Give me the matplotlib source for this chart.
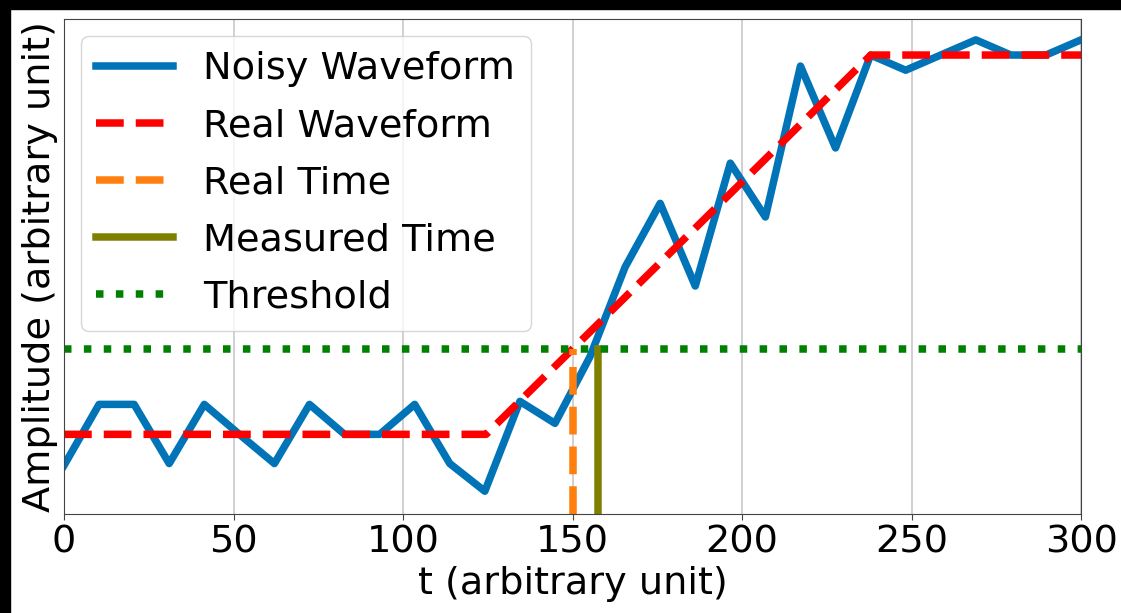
import numpy as np
import matplotlib
matplotlib.use("Agg")
import matplotlib.pyplot as plt
from matplotlib.patches import Rectangle

# sampled noisy waveform (30 samples over 0..300)
t_noisy = np.linspace(0, 300, 30)
noisy = [-0.082, 0.079, 0.079, -0.077, 0.079, 0.0, -0.077, 0.079, 0.0, 0.0,
         0.079, -0.077, -0.150, 0.087, 0.029, 0.205, 0.441, 0.609, 0.391, 0.715,
         0.573, 0.971, 0.755, 1.0, 0.960, 1.0, 1.040, 1.0, 1.0, 1.040]

# ideal waveform: flat, linear rise, flat
t_real = [0, 124.5, 238, 300]
real = [0, 0, 1, 1]

threshold = 0.225
real_time = 150.0
measured_time = 157.5

plt.rcParams["font.size"] = 27.5

fig = plt.figure(figsize=(11.21, 6.13), dpi=100)
fig.patch.set_facecolor("white")
# dark strips along top and left edge
fig.patches.append(Rectangle((0, 0), 10 / 1121, 1, transform=fig.transFigure,
                             color="black", zorder=-10))
fig.patches.append(Rectangle((0, 1 - 9 / 613), 1, 9 / 613, transform=fig.transFigure,
                             color="black", zorder=-10))

ax = fig.add_axes([64 / 1121, 1 - 514 / 613, (1081 - 64) / 1121, (514 - 19) / 613])
ymin, ymax = -0.21, 1.095

ax.plot(t_noisy, noisy, color="#0173b7", lw=5.4, label="Noisy Waveform")
ax.plot(t_real, real, "--", color="red", lw=5.4, label="Real Waveform")
ax.plot([real_time, real_time], [ymin, threshold], "--", color="#ff7f0e", lw=5.4,
        label="Real Time")
ax.plot([measured_time, measured_time], [ymin, threshold], "-", color="olive", lw=5.4,
        label="Measured Time")
ax.plot([0, 300], [threshold, threshold], ":", color="green", lw=5.4, label="Threshold")

ax.set_xlim(0, 300)
ax.set_ylim(ymin, ymax)
ax.set_xticks([0, 50, 100, 150, 200, 250, 300])
ax.set_yticks([])
ax.grid(axis="x", color="#c8c8c8", lw=1.2)
ax.set_axisbelow(True)
for s in ax.spines.values():
    s.set_color("#444444")
ax.tick_params(axis="x", colors="#444444", labelcolor="black", length=4)
ax.set_xlabel("t (arbitrary unit)", labelpad=4)
ax.set_ylabel("Amplitude (arbitrary unit)", labelpad=4)
ax.legend(loc="upper left", fontsize=27.5, labelspacing=0.55, borderaxespad=0.45)

fig.savefig("out.png", dpi=100)
